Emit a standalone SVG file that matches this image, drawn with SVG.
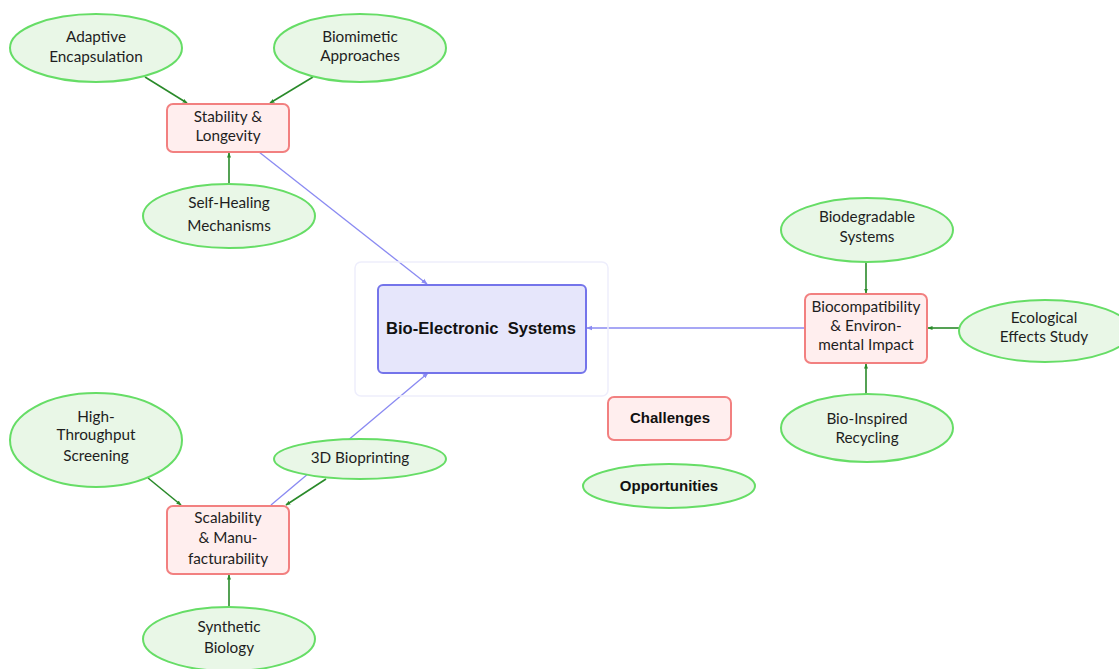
<svg xmlns="http://www.w3.org/2000/svg" width="1119" height="669" viewBox="0 0 1119 669">
  <defs>
    <style>
      .bg { fill: #ffffff; }
      .challenge { fill: #ffeeee; stroke: #f28080; stroke-width: 2; }
      .opportunity { fill: #e9f7e7; stroke: #66dd66; stroke-width: 2; }
      .core { fill: #e6e6fb; stroke: #7474ea; stroke-width: 2; }
      .frame { fill: none; stroke: #eeeefc; stroke-width: 1.5; }
      .lbl { font-family: Lato, "Open Sans", "DejaVu Sans", sans-serif; font-size: 15.3px; fill: #1e1e1e; text-anchor: middle; }
      .bold { font-family: "Liberation Sans", Arial, sans-serif; font-weight: bold; fill: #111111; text-anchor: middle; }
      .feed { stroke: #2a8a2a; stroke-width: 1.6; fill: none; marker-end: url(#greenHead); }
      .link { stroke: #8a8af2; stroke-width: 1.3; fill: none; marker-end: url(#blueHead); }
    </style>
    <marker id="greenHead" viewBox="0 0 10 10" refX="9" refY="5" markerWidth="5" markerHeight="5" orient="auto" markerUnits="userSpaceOnUse">
      <path d="M0,1 L10,5 L0,9 Z" fill="#2a8a2a"/>
    </marker>
    <marker id="blueHead" viewBox="0 0 10 10" refX="9" refY="5" markerWidth="6" markerHeight="6" orient="auto" markerUnits="userSpaceOnUse">
      <path d="M0,1 L10,5 L0,9 Z" fill="#8a8af2"/>
    </marker>
  </defs>

  <rect class="bg" x="0" y="0" width="1119" height="669"/>

  <!-- connectors -->
  <g id="connectors">
    <line class="feed" x1="145" y1="77" x2="187" y2="103"/>
    <line class="feed" x1="313" y1="77" x2="270" y2="103"/>
    <line class="feed" x1="229" y1="184" x2="229" y2="153"/>
    <line class="link" x1="259" y1="152" x2="427" y2="284"/>

    <line class="feed" x1="866" y1="262" x2="866" y2="293"/>
    <line class="feed" x1="959" y1="328" x2="928" y2="328"/>
    <line class="feed" x1="866" y1="394" x2="866" y2="364"/>
    <line class="link" x1="805" y1="328" x2="587" y2="328"/>

    <line class="feed" x1="148" y1="478" x2="181" y2="505"/>
    <line class="feed" x1="326" y1="479" x2="286" y2="505"/>
    <line class="feed" x1="229" y1="608" x2="229" y2="575"/>
    <line class="link" x1="271" y1="505" x2="428" y2="373"/>
  </g>

  <!-- central hub -->
  <g id="hub">
    <rect class="frame" x="355" y="262" width="253" height="134" rx="6"/>
    <rect class="core" x="378" y="285" width="208" height="88" rx="5"/>
    <text class="bold" x="481" y="334" font-size="16.6" xml:space="preserve">Bio-Electronic  Systems</text>
  </g>

  <!-- stability cluster -->
  <g id="stability">
    <rect class="challenge" x="167" y="104" width="122" height="48" rx="6"/>
    <text class="lbl" x="228" y="122">Stability &amp;</text>
    <text class="lbl" x="228" y="141">Longevity</text>
  </g>
  <g id="adaptive-encapsulation">
    <ellipse class="opportunity" cx="96" cy="48" rx="86" ry="34"/>
    <text class="lbl" x="96" y="42">Adaptive</text>
    <text class="lbl" x="96" y="62">Encapsulation</text>
  </g>
  <g id="biomimetic-approaches">
    <ellipse class="opportunity" cx="360" cy="48" rx="86" ry="34"/>
    <text class="lbl" x="360" y="42">Biomimetic</text>
    <text class="lbl" x="360" y="61">Approaches</text>
  </g>
  <g id="self-healing">
    <ellipse class="opportunity" cx="229" cy="216" rx="86" ry="32"/>
    <text class="lbl" x="229" y="208">Self-Healing</text>
    <text class="lbl" x="229" y="231">Mechanisms</text>
  </g>

  <!-- biocompatibility cluster -->
  <g id="biocompatibility">
    <rect class="challenge" x="805" y="294" width="122" height="69" rx="6"/>
    <text class="lbl" x="866" y="312">Biocompatibility</text>
    <text class="lbl" x="866" y="331">&amp; Environ-</text>
    <text class="lbl" x="866" y="350">mental Impact</text>
  </g>
  <g id="biodegradable">
    <ellipse class="opportunity" cx="867" cy="230" rx="86" ry="32"/>
    <text class="lbl" x="867" y="222" font-size="14">Biodegradable</text>
    <text class="lbl" x="867" y="242" font-size="14">Systems</text>
  </g>
  <g id="ecological">
    <ellipse class="opportunity" cx="1045" cy="331" rx="86" ry="31"/>
    <text class="lbl" x="1044" y="323">Ecological</text>
    <text class="lbl" x="1044" y="342">Effects Study</text>
  </g>
  <g id="bio-inspired-recycling">
    <ellipse class="opportunity" cx="867" cy="428" rx="86" ry="34"/>
    <text class="lbl" x="867" y="424">Bio-Inspired</text>
    <text class="lbl" x="867" y="443">Recycling</text>
  </g>

  <!-- scalability cluster -->
  <g id="scalability">
    <rect class="challenge" x="167" y="506" width="122" height="68" rx="6"/>
    <text class="lbl" x="228" y="523">Scalability</text>
    <text class="lbl" x="228" y="543">&amp; Manu-</text>
    <text class="lbl" x="228" y="564">facturability</text>
  </g>
  <g id="high-throughput">
    <ellipse class="opportunity" cx="96" cy="440" rx="86" ry="47"/>
    <text class="lbl" x="96" y="422">High-</text>
    <text class="lbl" x="96" y="440">Throughput</text>
    <text class="lbl" x="96" y="461">Screening</text>
  </g>
  <g id="bioprinting">
    <ellipse class="opportunity" cx="360" cy="459" rx="86" ry="20"/>
    <text class="lbl" x="360" y="463">3D Bioprinting</text>
  </g>
  <g id="synthetic-biology">
    <ellipse class="opportunity" cx="229" cy="639" rx="86" ry="32"/>
    <text class="lbl" x="229" y="632">Synthetic</text>
    <text class="lbl" x="229" y="653">Biology</text>
  </g>

  <!-- legend -->
  <g id="legend-challenges">
    <rect class="challenge" x="608" y="397" width="123" height="43" rx="6"/>
    <text class="bold" x="670" y="423" font-size="15">Challenges</text>
  </g>
  <g id="legend-opportunities">
    <ellipse class="opportunity" cx="669" cy="486" rx="86" ry="22"/>
    <text class="bold" x="669" y="491" font-size="15">Opportunities</text>
  </g>
</svg>
